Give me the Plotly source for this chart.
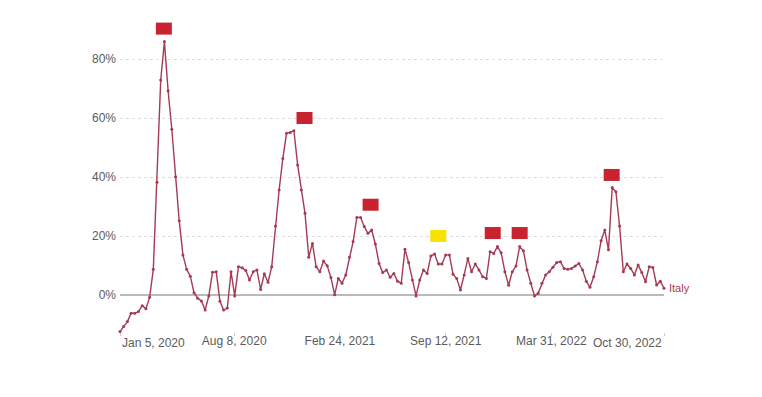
import pandas as pd
import plotly.graph_objects as go

# weekly excess mortality P-score, Italy (%)
start_date = "2020-01-05"
pscore = [
    -12.4, -10.7, -9.0, -6.2, -6.2, -5.6, -3.6, -4.7, -0.8, 8.7,
    38.2, 72.9, 85.9, 69.2, 56.2, 40.1, 25.2, 13.6, 8.7, 6.4,
    0.8, -1.1, -2.0, -5.1, -0.3, 7.7, 7.9, -2.1, -5.1, -4.4,
    7.9, -0.3, 9.6, 9.2, 8.3, 5.1, 7.9, 8.5, 1.9, 7.2,
    4.3, 9.6, 23.4, 35.6, 46.3, 54.8, 55.1, 55.7, 44.1, 35.6,
    27.7, 12.8, 17.5, 9.6, 7.9, 11.5, 9.9, 5.9, 0.1, 5.6,
    4.0, 6.8, 12.8, 18.1, 26.3, 26.3, 23.2, 20.9, 22.0, 17.3,
    10.7, 7.6, 8.5, 6.0, 7.3, 4.7, 4.0, 15.5, 11.0, 5.1,
    -0.3, 5.1, 8.5, 7.3, 13.2, 13.9, 10.5, 10.5, 13.6, 13.6,
    7.0, 5.6, 1.7, 6.8, 12.4, 7.9, 10.5, 8.5, 6.2, 5.6,
    14.7, 14.1, 16.4, 14.3, 7.9, 3.3, 7.9, 9.8, 16.4, 15.0,
    8.5, 4.0, -0.3, 0.6, 4.0, 6.8, 7.9, 9.4, 11.0, 11.3,
    9.0, 8.7, 9.0, 9.8, 10.7, 8.5, 4.7, 2.6, 6.2, 11.3,
    18.4, 22.0, 15.3, 36.4, 35.0, 23.4, 7.9, 10.5, 9.0, 6.8,
    10.2, 7.6, 4.5, 9.6, 9.3, 3.4, 4.7, 2.3,
]
weeks = pd.date_range(start_date, periods=len(pscore), freq="7D")

# event flags shown above the line
flag_dates = ["2020-03-28", "2020-12-19", "2021-04-23", "2021-08-29",
              "2021-12-10", "2022-01-30", "2022-07-23"]
flag_levels = [90.3, 60.0, 30.6, 20.0, 21.0, 21.0, 40.7]
flag_colors = ["#c8232f", "#c8232f", "#c8232f", "#f7e200",
               "#c8232f", "#c8232f", "#c8232f"]

y_ticks = [0, 20, 40, 60, 80]
y_text = ["0%", "20%", "40%", "60%", "80%"]

tick_dates = ["2020-01-05", "2020-08-08", "2021-02-24",
              "2021-09-12", "2022-03-31", "2022-10-30"]
tick_text = ["Jan 5, 2020", "Aug 8, 2020", "Feb 24, 2021",
             "Sep 12, 2021", "Mar 31, 2022", "Oct 30, 2022"]

line_col = "#a53b53"
grey = "#5b5b5b"

fig = go.Figure()
fig.add_trace(go.Scatter(
    x=weeks, y=pscore, mode="lines+markers",
    line=dict(color=line_col, width=1.4),
    marker=dict(color=line_col, size=3),
    cliponaxis=False, showlegend=False,
))

for d, lv, c in zip(flag_dates, flag_levels, flag_colors):
    fig.add_shape(type="rect", xref="x", yref="y",
                  xsizemode="pixel", ysizemode="pixel",
                  xanchor=d, yanchor=lv, x0=-8, x1=8, y0=-6, y1=6,
                  fillcolor=c, line=dict(width=0))

# end tick labels are pinned inside the axis, like the original
mid_text = [""] + tick_text[1:-1] + [""]
fig.add_annotation(x=tick_dates[0], y=0, xref="x", yref="paper",
                   xanchor="left", yanchor="top", yshift=-2,
                   text=tick_text[0], showarrow=False,
                   font=dict(size=12, color=grey))
fig.add_annotation(x=tick_dates[-1], y=0, xref="x", yref="paper",
                   xanchor="right", yanchor="top", yshift=-2,
                   text=tick_text[-1], showarrow=False,
                   font=dict(size=12, color=grey))
fig.add_annotation(x=weeks[-1], y=pscore[-1], xref="x", yref="y",
                   xanchor="left", yanchor="middle", xshift=3,
                   text="Italy", showarrow=False,
                   font=dict(size=11, color=line_col))

fig.update_layout(
    width=762, height=397,
    margin=dict(l=112, r=106, t=12, b=73),
    paper_bgcolor="#ffffff", plot_bgcolor="#ffffff",
    font=dict(family="Liberation Sans, Arial, sans-serif", size=12, color=grey),
)
fig.update_xaxes(
    range=[start_date, "2022-10-30"], tickvals=tick_dates, ticktext=mid_text,
    showgrid=False, showline=False, zeroline=False,
    ticks="outside", ticklen=3, tickcolor="#cccccc", ticklabelstandoff=-5,
)
fig.update_yaxes(
    range=[-12.54, 93.22], tickvals=y_ticks, ticktext=y_text,
    showgrid=True, gridcolor="#dddddd", griddash="dot", gridwidth=1,
    zeroline=True, zerolinecolor="#bbbbbb", zerolinewidth=1.5,
    showline=False, ticklabelstandoff=3,
)

fig.write_html("out.html")
